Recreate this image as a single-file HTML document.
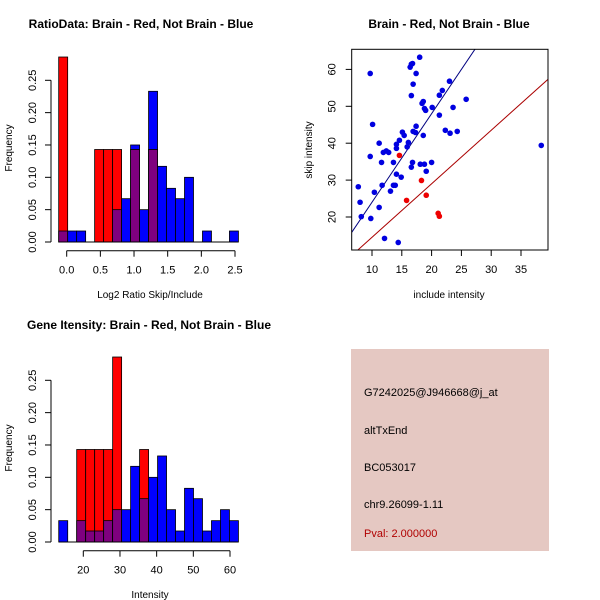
<!DOCTYPE html>
<html><head><meta charset="utf-8"><style>
body{margin:0;background:#fff}
svg{display:block;font-family:"Liberation Sans",Arial,sans-serif}
</style></head><body>
<svg id="c" width="600" height="600" viewBox="0 0 600 600">
<rect width="600" height="600" fill="#fff"/>
<g id="p1"></g>
<g id="p2"></g>
<g id="p3"></g>
<g>
<rect x="351" y="349" width="198" height="202" fill="#e5c8c2"/>
<text x="364" y="396" font-size="11" fill="#000">G7242025@J946668@j_at</text>
<text x="364" y="434" font-size="11" fill="#000">altTxEnd</text>
<text x="364" y="471" font-size="11" fill="#000">BC053017</text>
<text x="364" y="508" font-size="11" fill="#000">chr9.26099-1.11</text>
<text x="364" y="537" font-size="11" fill="#b00000">Pval: 2.000000</text>
</g>
</svg>
<script>
// Ratio histogram data
const ratioStart = -0.119, ratioWidth = 0.1335;
const ratioBlue = [0.017,0.017,0.017,0,0,0,0.05,0.067,0.15,0.05,0.233,0.117,0.083,0.067,0.1,0,0.017,0,0,0.017];
const ratioRed  = [0.286,0,0,0,0.143,0.143,0.143,0,0.143,0,0.143,0,0,0,0,0,0,0,0,0];
const ratioXTicks = [0,0.5,1.0,1.5,2.0,2.5];
const ratioXLabels = ["0.0","0.5","1.0","1.5","2.0","2.5"];
const freqTicks = [0,0.05,0.10,0.15,0.20,0.25];
const freqLabels = ["0.00","0.05","0.10","0.15","0.20","0.25"];
// Intensity histogram data
const intStart = 13.3, intWidth = 2.45;
const intBlue = [0.033,0,0.033,0.017,0.017,0.033,0.05,0.05,0.117,0.067,0.1,0.133,0.05,0.017,0.083,0.067,0.017,0.033,0.05,0.033];
const intRed  = [0,0,0.143,0.143,0.143,0.143,0.286,0,0,0.143,0,0,0,0,0,0,0,0,0,0];
const intXTicks = [20,30,40,50,60];
// Scatter data
const blueX = [7.7,8.0,8.2,9.7,9.7,9.8,10.1,10.4,11.2,11.2,11.6,11.7,11.9,12.4,12.8,12.1,13.1,13.6,13.6,13.9,14.1,14.1,14.1,14.6,14.4,14.9,15.1,15.4,15.9,16.1,16.4,16.6,16.8,16.6,16.6,16.8,16.9,16.9,17.3,17.4,17.4,18.0,18.1,18.4,18.6,18.6,18.8,18.8,19.0,19.1,20.0,20.1,21.3,21.3,21.8,22.3,23.0,23.1,23.6,24.3,25.8,38.4];
const blueY = [28.2,24.0,20.1,58.9,36.4,19.6,45.1,26.7,40.0,22.6,34.8,28.6,37.5,37.9,37.5,14.2,27.0,34.8,28.6,28.6,38.6,39.7,31.6,40.8,13.1,30.8,43.0,42.1,39.0,40.2,60.6,61.4,61.6,52.9,33.5,34.8,56.0,43.2,42.9,44.6,58.9,63.3,34.3,50.8,51.3,42.1,34.3,49.4,48.9,32.4,34.8,49.7,53.0,47.6,54.3,43.5,56.8,42.7,49.7,43.2,51.9,39.4];
const redX = [14.6,15.8,18.3,19.1,21.1,21.3];
const redY = [36.7,24.5,29.9,25.9,21.0,20.2];
const blueSlope = 2.4, redSlope = 1.45;
const scXTicks = [10,15,20,25,30,35];
const scYTicks = [20,30,40,50,60];

const NS="http://www.w3.org/2000/svg";
function mk(parent,tag,attrs){const e=document.createElementNS(NS,tag);for(const k in attrs)e.setAttribute(k,attrs[k]);parent.appendChild(e);return e;}
function txt(parent,x,y,s,size,extra){const t=mk(parent,'text',Object.assign({x:x,y:y,'font-size':size,'text-anchor':'middle',fill:'#000'},extra||{}));t.textContent=s;return t;}

function hist(g, top, start, width, blue, red, ticks, tickLabels, title, titleX, titleY, xlab, xPx0, xPx1, xv0, xv1){
  const y0=top+202, y25=top+40.3;
  const sy=v=>y0-(y0-y25)*v/0.25;
  const sx=v=>xPx0+(v-xv0)*(xPx1-xPx0)/(xv1-xv0);
  let t=txt(g,titleX,titleY,title,12,{'font-weight':'bold'});
  
  
  for(let i=0;i<blue.length;i++){
    const a=sx(start+i*width), b=sx(start+(i+1)*width);
    if(red[i]>0){let r=mk(g,'rect',{x:a,y:sy(red[i]),width:b-a,height:y0-sy(red[i]),fill:'#ff0000',stroke:'#000','stroke-width':0.8});
      
      }
    if(blue[i]>red[i]){const lo=red[i];let r=mk(g,'rect',{x:a,y:sy(blue[i]),width:b-a,height:sy(lo)-sy(blue[i]),fill:'#0000ff',stroke:'#000','stroke-width':0.8});
      
      }
    const m=Math.min(blue[i],red[i]);
    if(m>0){let r=mk(g,'rect',{x:a,y:sy(m),width:b-a,height:y0-sy(m),fill:'#7f007f',stroke:'#000','stroke-width':0.8});
      
      }
  }
  mk(g,'line',{x1:sx(start),x2:sx(start+blue.length*width),y1:y0,y2:y0,stroke:'#000'});
  mk(g,'line',{x1:51,x2:51,y1:sy(0),y2:sy(0.25),stroke:'#000'});
  freqTicks.forEach((v,i)=>{mk(g,'line',{x1:45,x2:51,y1:sy(v),y2:sy(v),stroke:'#000'});
    let l=txt(g,36,sy(v),freqLabels[i],11,{transform:`rotate(-90 36 ${sy(v)})`});
    
    });
  let yl=txt(g,12,top+108,'Frequency',10,{transform:`rotate(-90 12 ${top+108})`});
  
  
  const ya=top+210.7;
  mk(g,'line',{x1:sx(ticks[0]),x2:sx(ticks[ticks.length-1]),y1:ya,y2:ya,stroke:'#000'});
  ticks.forEach((v,i)=>{mk(g,'line',{x1:sx(v),x2:sx(v),y1:ya,y2:ya+6,stroke:'#000'});
    let l=txt(g,sx(v),ya+23,tickLabels[i],11);
    
    });
  let xl=txt(g,150,top+258,xlab,10);
  
  
}
hist(document.getElementById('p1'),40,ratioStart,ratioWidth,ratioBlue,ratioRed,ratioXTicks,ratioXLabels,'RatioData: Brain - Red, Not Brain - Blue',141,28,'Log2 Ratio Skip/Include',66.7,235,0,2.5);
hist(document.getElementById('p3'),340,intStart,intWidth,intBlue,intRed,intXTicks,intXTicks.map(String),'Gene Itensity: Brain - Red, Not Brain - Blue',149,329,'Intensity',83.3,230,20,60);

(function(){
  const g=document.getElementById('p2');
  const L=351.7,R=548,T=49.3,B=250;
  const sx=v=>372+(v-10)*5.96, sy=v=>217-(v-20)*3.69;
  let t=txt(g,449,28,'Brain - Red, Not Brain - Blue',12,{'font-weight':'bold'});
  
  
  const defs=mk(g,'defs',{});const cp=mk(defs,'clipPath',{id:'clip'});mk(cp,'rect',{x:L,y:T,width:R-L,height:B-T});
  const lg=mk(g,'g',{'clip-path':'url(#clip)'});
  const xv0=6.6,xv1=40;
  let bl=mk(lg,'line',{x1:sx(xv0),y1:sy(blueSlope*xv0),x2:sx(xv1),y2:sy(blueSlope*xv1),stroke:'#000080'});
  
  
  let rl=mk(lg,'line',{x1:sx(xv0),y1:sy(redSlope*xv0),x2:sx(xv1),y2:sy(redSlope*xv1),stroke:'#aa0000'});
  
  
  blueX.forEach((x,i)=>{let c=mk(g,'circle',{cx:sx(x),cy:sy(blueY[i]),r:2.8,fill:'#0000e0'});
    
    });
  redX.forEach((x,i)=>{let c=mk(g,'circle',{cx:sx(x),cy:sy(redY[i]),r:2.8,fill:'#ee0000'});
    
    });
  mk(g,'rect',{x:L,y:T,width:R-L,height:B-T,fill:'none',stroke:'#000'});
  scXTicks.forEach(v=>{mk(g,'line',{x1:sx(v),x2:sx(v),y1:B,y2:B+6,stroke:'#000'});
    let l=txt(g,sx(v),B+23,String(v),11);
    
    });
  scYTicks.forEach(v=>{mk(g,'line',{x1:L-6,x2:L,y1:sy(v),y2:sy(v),stroke:'#000'});
    let l=txt(g,L-16,sy(v),String(v),11,{transform:`rotate(-90 ${L-16} ${sy(v)})`});
    
    });
  let xl=txt(g,449,298,'include intensity',10);
  
  
  let yl=txt(g,312,150,'skip intensity',10,{transform:'rotate(-90 312 150)'});
  
  
})();
</script>
</body></html>
